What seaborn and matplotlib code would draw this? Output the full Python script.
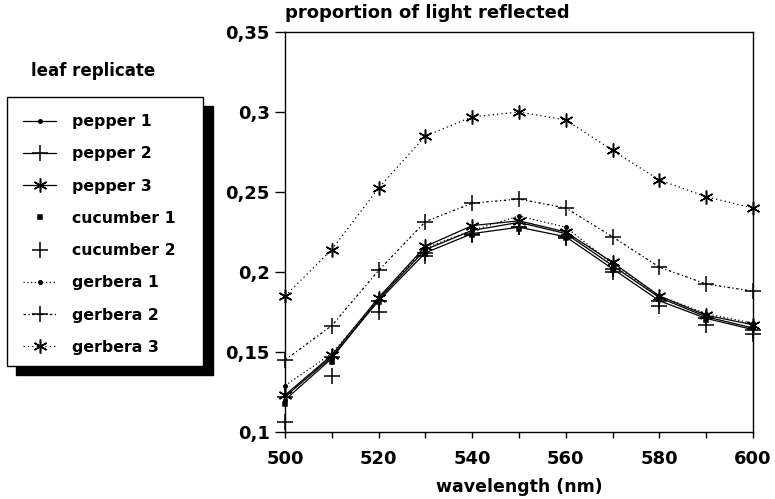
import matplotlib
matplotlib.use("Agg")
import matplotlib.pyplot as plt
import seaborn as sns
import pandas as pd
from matplotlib.lines import Line2D
from matplotlib.patches import Rectangle
from matplotlib.ticker import FuncFormatter, MultipleLocator

wavelength = [500, 510, 520, 530, 540, 550, 560, 570, 580, 590, 600]

pepper_1 = [0.120, 0.146, 0.183, 0.214, 0.226, 0.231, 0.224, 0.204, 0.184, 0.172, 0.165]
pepper_2 = [0.122, 0.147, 0.182, 0.212, 0.224, 0.228, 0.222, 0.202, 0.182, 0.171, 0.164]
pepper_3 = [0.123, 0.148, 0.184, 0.216, 0.229, 0.232, 0.225, 0.206, 0.185, 0.173, 0.167]
cucumber_1 = [0.1175, 0.144, 0.181, 0.211, 0.223, 0.227, 0.221, 0.201, 0.183, 0.170, 0.165]
cucumber_2 = [0.106, 0.135, 0.175, 0.210, 0.223, 0.228, 0.221, 0.200, 0.179, 0.167, 0.161]
gerbera_1 = [0.129, 0.149, 0.183, 0.215, 0.226, 0.235, 0.228, 0.205, 0.185, 0.174, 0.168]
gerbera_2 = [0.145, 0.1665, 0.201, 0.2315, 0.243, 0.2456, 0.240, 0.222, 0.203, 0.1925, 0.188]
gerbera_3 = [0.185, 0.214, 0.2525, 0.285, 0.297, 0.300, 0.295, 0.276, 0.2575, 0.247, 0.240]

series_names = ["pepper 1", "pepper 2", "pepper 3", "cucumber 1", "cucumber 2",
                "gerbera 1", "gerbera 2", "gerbera 3"]
series_values = [pepper_1, pepper_2, pepper_3, cucumber_1, cucumber_2,
                 gerbera_1, gerbera_2, gerbera_3]

# styling per series: linestyle, marker, markersize
asterisk = (6, 2, 0)
styles = {
    "pepper 1": ("-", "o", 2.5),
    "pepper 2": ("-", "+", 11),
    "pepper 3": ("-", asterisk, 10),
    "cucumber 1": ("", "s", 2.5),
    "cucumber 2": ("", "+", 11),
    "gerbera 1": ((0, (1, 2)), "o", 2.5),
    "gerbera 2": ((0, (2, 2, 1, 2)), "+", 11),
    "gerbera 3": ((0, (1, 2.5)), asterisk, 10),
}

df = pd.DataFrame({
    "wavelength": wavelength * len(series_names),
    "reflected": [v for vals in series_values for v in vals],
    "replicate": [n for n in series_names for _ in wavelength],
})

sns.set_style("ticks")
plt.rcParams["font.family"] = ["DejaVu Sans"]
plt.rcParams["font.weight"] = "bold"
for key in ["text.color", "axes.labelcolor", "xtick.color", "ytick.color", "axes.edgecolor"]:
    plt.rcParams[key] = "black"

W, H = 775, 499
fig = plt.figure(figsize=(W / 100, H / 100), dpi=100)
ax = fig.add_axes([285 / W, 1 - 432 / H, (753 - 285) / W, (432 - 32) / H])

for name in series_names:
    ls, mk, ms = styles[name]
    sub = df[df["replicate"] == name]
    sns.lineplot(data=sub, x="wavelength", y="reflected", ax=ax, color="black",
                 linestyle=ls if ls else "none", linewidth=0.9, marker=mk,
                 markersize=ms, markeredgewidth=1.1, markeredgecolor="black",
                 clip_on=False, zorder=3)

ax.set_xlim(500, 600)
ax.set_ylim(0.1, 0.35)
ax.xaxis.set_major_locator(MultipleLocator(20))
ax.xaxis.set_minor_locator(MultipleLocator(10))
ax.yaxis.set_major_locator(MultipleLocator(0.05))
ax.yaxis.set_major_formatter(FuncFormatter(lambda v, p: ("%g" % round(v, 2)).replace(".", ",")))
ax.tick_params(axis="y", direction="out", length=7, width=1, labelsize=13, pad=4)
ax.tick_params(axis="x", which="both", direction="out", length=4, width=1, labelsize=13, pad=9)
for sp in ax.spines.values():
    sp.set_visible(True)
    sp.set_linewidth(1)
    sp.set_color("black")

ax.set_ylabel("")
ax.set_xlabel("wavelength (nm)", fontsize=12.5, fontweight="bold", labelpad=7)

fig.text(285 / W, 1 - 13 / H, "proportion of light reflected", fontsize=13,
         fontweight="bold", ha="left", va="center")

# legend box with solid shadow
fig.patches.append(Rectangle((16 / W, 1 - 375 / H), 197 / W, 269 / H,
                             transform=fig.transFigure, facecolor="black",
                             edgecolor="black", zorder=1))
fig.patches.append(Rectangle((7 / W, 1 - 366 / H), 196 / W, 269 / H,
                             transform=fig.transFigure, facecolor="white",
                             edgecolor="black", linewidth=1, zorder=2))
fig.text(31 / W, 1 - 71 / H, "leaf replicate", fontsize=12, fontweight="bold",
         ha="left", va="center")

handles = []
for name in series_names:
    ls, mk, ms = styles[name]
    handles.append(Line2D([], [], color="black", linestyle=ls if ls else "none",
                          linewidth=0.9, marker=mk, markersize=ms,
                          markeredgewidth=1.1))
leg = fig.legend(handles, series_names, loc="upper left",
                 bbox_to_anchor=(9 / W, 1 - 100 / H), frameon=False,
                 fontsize=11.3, handlelength=2.1, handletextpad=1.0,
                 labelspacing=1.1)
leg.set_zorder(5)

fig.savefig("out.png", dpi=100)
